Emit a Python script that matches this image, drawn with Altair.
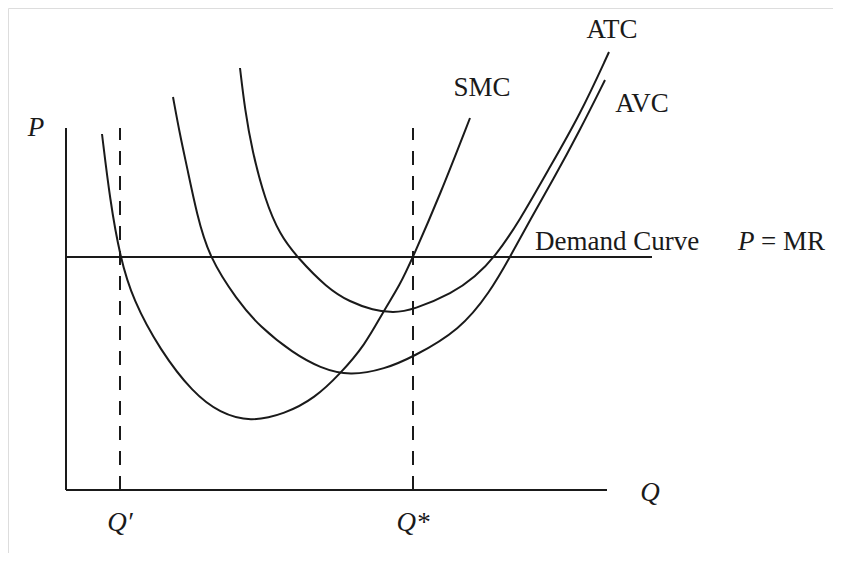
import altair as alt
import pandas as pd

# Curves (Q, P)
smc_q = [36, 44, 54, 67, 94, 127, 154, 184, 219, 249, 274, 299, 317, 334, 347, 374, 404]
smc_p = [356, 290, 233, 190, 140, 97, 77, 68, 76, 92, 116, 145, 178, 205, 233, 295, 372]

avc_q = [107, 114, 121, 131, 143, 171, 194, 227, 254, 284, 319, 347, 394, 424, 444, 464, 487, 514, 539]
avc_p = [393, 355, 323, 275, 233, 190, 163, 137, 122, 114, 121, 133, 160, 198, 233, 270, 310, 360, 410]

atc_q = [174, 179, 186, 199, 214, 231, 261, 284, 307, 327, 347, 387, 409, 429, 454, 481, 514, 543]
atc_p = [422, 380, 340, 290, 255, 233, 202, 188, 180, 177, 180, 197, 213, 233, 270, 318, 375, 438]

price = 233            # demand curve P = MR
demand_q_end = 586
q_prime = 54
q_star = 347
p_axis_top = 362
q_axis_end = 541

rows = []
for name, qs, ps in [("SMC", smc_q, smc_p), ("AVC", avc_q, avc_p), ("ATC", atc_q, atc_p)]:
    for q, p in zip(qs, ps):
        rows.append({"curve": name, "Q": q, "P": p})
curves = pd.DataFrame(rows)

xs = alt.Scale(domain=[-58, 767], nice=False, zero=False)
ys = alt.Scale(domain=[-63, 482], nice=False, zero=False)
X = lambda f: alt.X(f, type="quantitative", scale=xs, axis=None)
Y = lambda f: alt.Y(f, type="quantitative", scale=ys, axis=None)

ink = "#1a1a1a"

curve_layer = alt.Chart(curves).mark_line(
    color=ink, strokeWidth=2, interpolate="basis"
).encode(x=X("Q"), y=Y("P"), detail="curve:N", order="Q:Q")

solid = pd.DataFrame([
    {"id": "yaxis", "Q": 0, "P": 0, "Q2": 0, "P2": p_axis_top},
    {"id": "xaxis", "Q": 0, "P": 0, "Q2": q_axis_end, "P2": 0},
    {"id": "demand", "Q": 0, "P": price, "Q2": demand_q_end, "P2": price},
])
solid_layer = alt.Chart(solid).mark_rule(color=ink, strokeWidth=2).encode(
    x=X("Q"), y=Y("P"), x2="Q2:Q", y2="P2:Q"
)

dashed = pd.DataFrame([
    {"Q": q_prime, "P": 0, "P2": p_axis_top},
    {"Q": q_star, "P": 0, "P2": p_axis_top},
])
dashed_layer = alt.Chart(dashed).mark_rule(
    color=ink, strokeWidth=2, strokeDash=[14, 11]
).encode(x=X("Q"), y=Y("P"), y2="P2:Q")

labels_center = pd.DataFrame([
    {"t": "SMC", "Q": 416, "P": 402},
    {"t": "ATC", "Q": 546, "P": 460},
    {"t": "AVC", "Q": 576, "P": 386},
])
labels_italic = pd.DataFrame([
    {"t": "P", "Q": -30, "P": 362},
    {"t": "Q", "Q": 584, "P": -3},
    {"t": "Q\u2032", "Q": q_prime, "P": -33},
    {"t": "Q*", "Q": q_star, "P": -33},
])
labels_left = pd.DataFrame([
    {"t": "Demand Curve", "Q": 469, "P": 248},
    {"t": "= MR", "Q": 695, "P": 248},
])
labels_left_italic = pd.DataFrame([
    {"t": "P", "Q": 672, "P": 248},
])

font = "Liberation Serif"
fs = 27
t1 = alt.Chart(labels_center).mark_text(font=font, fontSize=fs, color=ink, align="center", baseline="middle").encode(
    x=X("Q"), y=Y("P"), text="t:N")
t2 = alt.Chart(labels_italic).mark_text(font=font, fontSize=fs, fontStyle="italic", color=ink, align="center", baseline="middle").encode(
    x=X("Q"), y=Y("P"), text="t:N")
t3 = alt.Chart(labels_left).mark_text(font=font, fontSize=fs, color=ink, align="left", baseline="middle").encode(
    x=X("Q"), y=Y("P"), text="t:N")
t4 = alt.Chart(labels_left_italic).mark_text(font=font, fontSize=fs, fontStyle="italic", color=ink, align="left", baseline="middle").encode(
    x=X("Q"), y=Y("P"), text="t:N")

chart = alt.layer(solid_layer, dashed_layer, curve_layer, t1, t2, t3, t4).properties(
    width=825, height=545, padding=0, autosize=alt.AutoSizeParams(type="none")
).configure_view(stroke=None).configure(background="white")

chart.save("out.html", embed_options={"renderer": "svg", "actions": False})
